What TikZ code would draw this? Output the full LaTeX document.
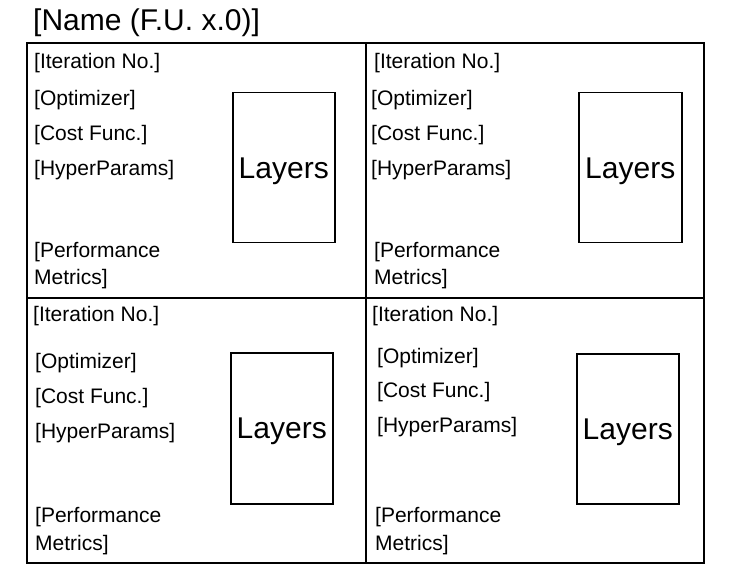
\documentclass[tikz,border=0pt]{standalone}
\usepackage{fontspec}
\setmainfont{Liberation Sans}
\begin{document}
\begin{tikzpicture}[x=1pt,y=-1pt,
  cellbox/.style={draw=black,line width=2pt,rectangle,inner sep=0pt,anchor=north west},
  layerbox/.style={draw=black,line width=1.5pt,rectangle,inner sep=0pt,anchor=north west,text depth=0pt,font=\fontsize{30}{34}\selectfont},
  info/.style={anchor=base west,inner sep=0pt,font=\fontsize{21}{25}\selectfont,text=black},
  titletext/.style={anchor=base west,inner sep=0pt,font=\fontsize{30}{34}\selectfont}]
\useasboundingbox (0,0) rectangle (731,585);
\fill[white] (0,0) rectangle (731,585);
\node[titletext] (title) at (33,31) {[Name (F.U. x.0)]};
% cells
\node[cellbox,minimum width=339pt,minimum height=255pt] (c1) at (26,42) {};
\node[cellbox,minimum width=338pt,minimum height=255pt] (c2) at (365,42) {};
\node[cellbox,minimum width=339pt,minimum height=265pt] (c3) at (26,297) {};
\node[cellbox,minimum width=338pt,minimum height=265pt] (c4) at (365,297) {};
% layer boxes
\node[layerbox,minimum width=102pt,minimum height=150pt] (l1) at (232,92) {Layers};
\node[layerbox,minimum width=103pt,minimum height=150pt] (l2) at (578,92) {Layers};
\node[layerbox,minimum width=102pt,minimum height=151pt] (l3) at (230,352) {Layers};
\node[layerbox,minimum width=102pt,minimum height=150pt] (l4) at (576,353) {Layers};
% cell 1
\node[info] (it1) at (34,69) {[Iteration No.]};
\node[info] (op1) at (34,106) {[Optimizer]};
\node[info] (cf1) at (34,141) {[Cost Func.]};
\node[info] (hp1) at (34,176) {[HyperParams]};
\node[info] (pm1) at (34,258) {[Performance};
\node[info] (mt1) at (34,285) {Metrics]};
% cell 2
\node[info] (it2) at (374,69) {[Iteration No.]};
\node[info] (op2) at (371,106) {[Optimizer]};
\node[info] (cf2) at (371,141) {[Cost Func.]};
\node[info] (hp2) at (371,176) {[HyperParams]};
\node[info] (pm2) at (374,258) {[Performance};
\node[info] (mt2) at (374,285) {Metrics]};
% cell 3
\node[info] (it3) at (33,322) {[Iteration No.]};
\node[info] (op3) at (35,368) {[Optimizer]};
\node[info] (cf3) at (35,403) {[Cost Func.]};
\node[info] (hp3) at (35,438) {[HyperParams]};
\node[info] (pm3) at (35,522) {[Performance};
\node[info] (mt3) at (35,550) {Metrics]};
% cell 4
\node[info] (it4) at (372,322) {[Iteration No.]};
\node[info] (op4) at (377,363) {[Optimizer]};
\node[info] (cf4) at (377,397) {[Cost Func.]};
\node[info] (hp4) at (377,432) {[HyperParams]};
\node[info] (pm4) at (375,522) {[Performance};
\node[info] (mt4) at (375,550) {Metrics]};
\end{tikzpicture}
\end{document}
